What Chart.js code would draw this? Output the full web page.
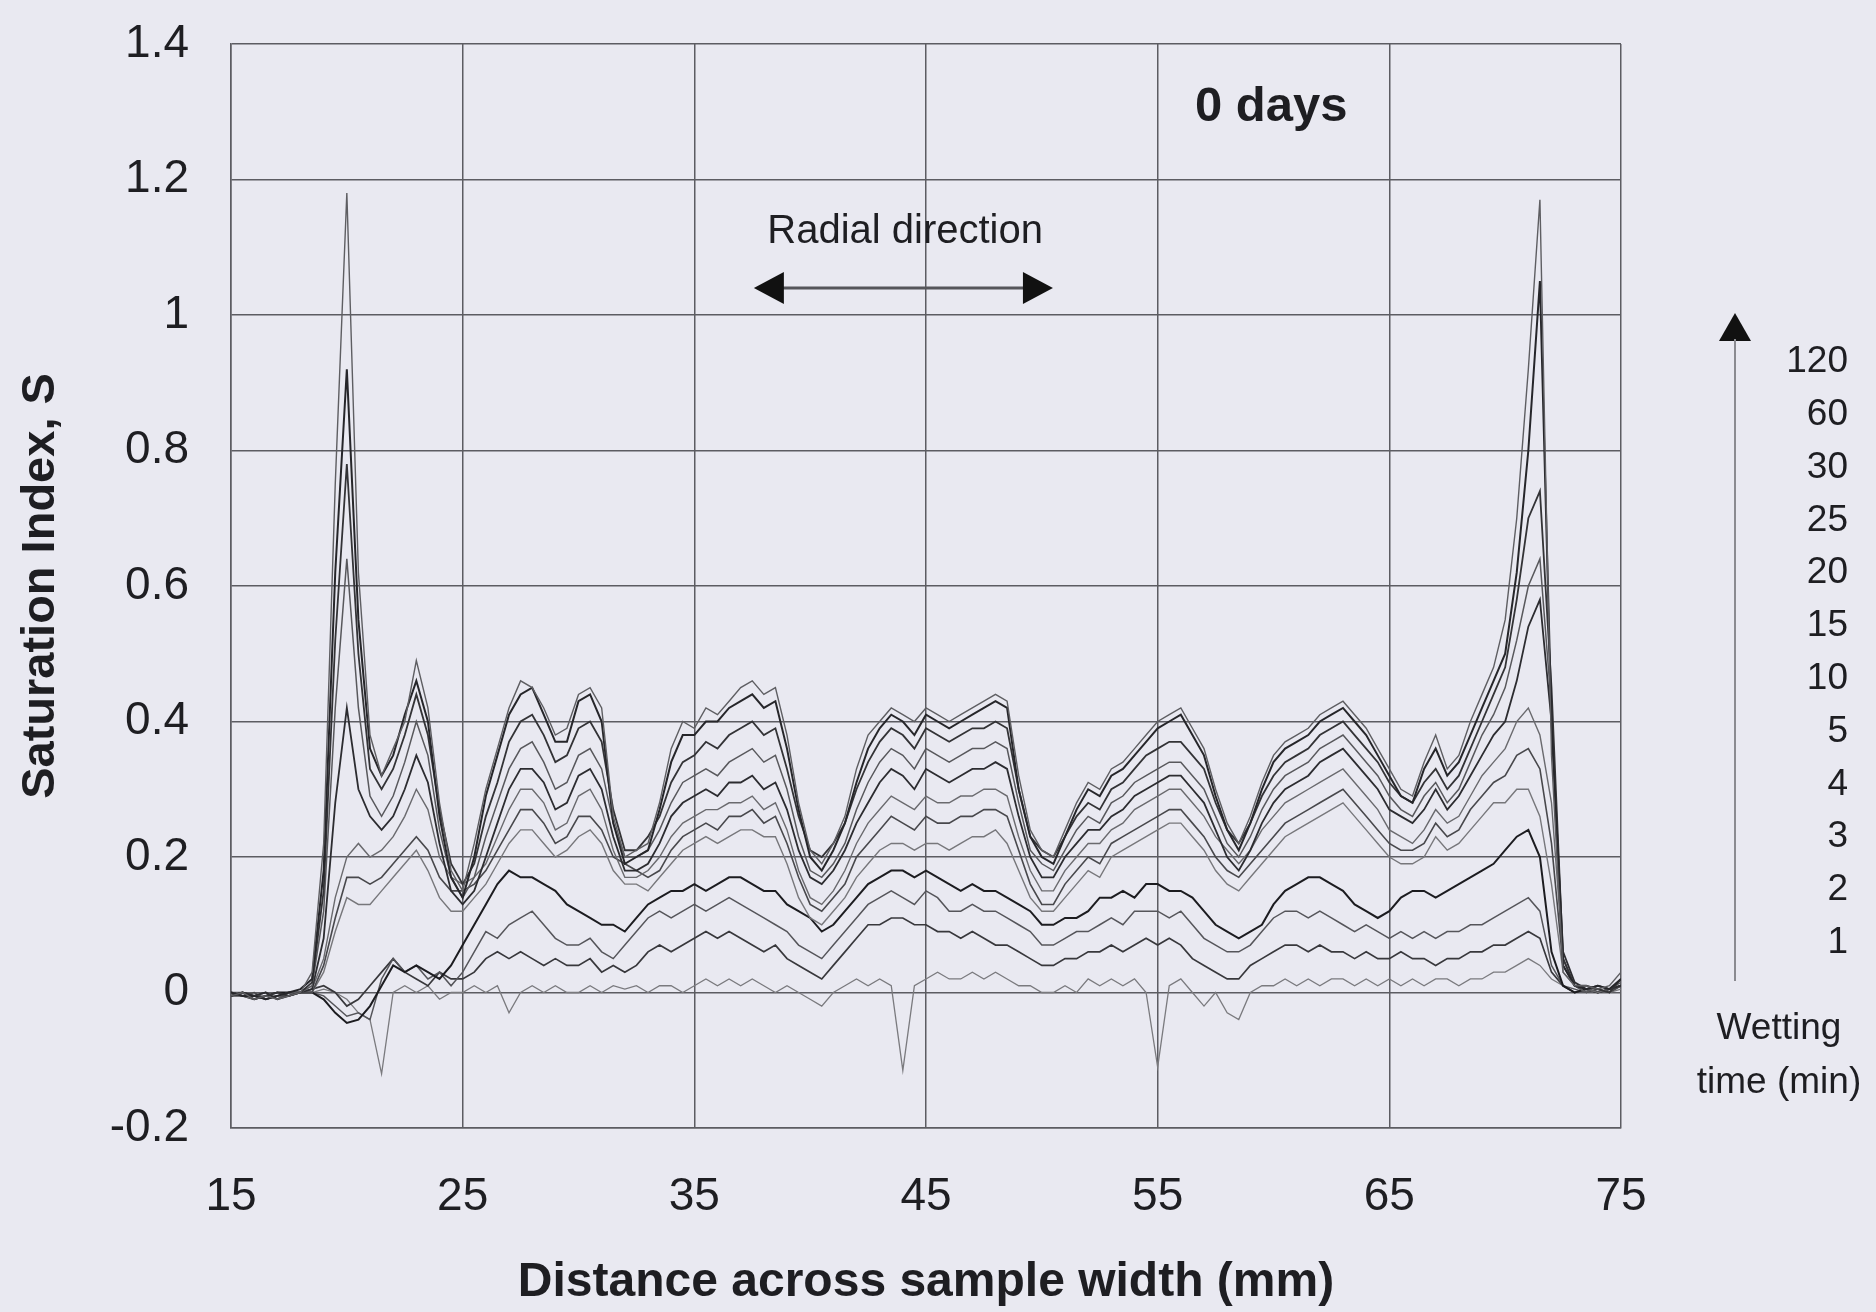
<!DOCTYPE html>
<html>
<head>
<meta charset="utf-8">
<script src="https://cdn.jsdelivr.net/npm/chart.js@4.4.1/dist/chart.umd.min.js"></script>
<style>
  html, body { margin: 0; padding: 0; background: #e9e9f1; }
  #wrap { width: 1876px; height: 1312px; }
</style>
</head>
<body>
<div id="wrap"><canvas id="chartSaturation"></canvas></div>
<script>
// ================================
//   DATI
// ================================
const distances = [
  15, 15.5, 16, 16.5, 17, 17.5, 18, 18.5, 19, 19.5,
  20, 20.5, 21, 21.5, 22, 22.5, 23, 23.5, 24, 24.5,
  25, 25.5, 26, 26.5, 27, 27.5, 28, 28.5, 29, 29.5,
  30, 30.5, 31, 31.5, 32, 32.5, 33, 33.5, 34, 34.5,
  35, 35.5, 36, 36.5, 37, 37.5, 38, 38.5, 39, 39.5,
  40, 40.5, 41, 41.5, 42, 42.5, 43, 43.5, 44, 44.5,
  45, 45.5, 46, 46.5, 47, 47.5, 48, 48.5, 49, 49.5,
  50, 50.5, 51, 51.5, 52, 52.5, 53, 53.5, 54, 54.5,
  55, 55.5, 56, 56.5, 57, 57.5, 58, 58.5, 59, 59.5,
  60, 60.5, 61, 61.5, 62, 62.5, 63, 63.5, 64, 64.5,
  65, 65.5, 66, 66.5, 67, 67.5, 68, 68.5, 69, 69.5,
  70, 70.5, 71, 71.5, 72, 72.5, 73, 73.5, 74, 74.5,
  75
];

const min120 = [
  -0.005, 0.0, -0.01, -0.005, -0.01, -0.005, 0.0, 0.03, 0.22, 0.75,
  1.18, 0.62, 0.38, 0.32, 0.36, 0.40, 0.49, 0.42, 0.28, 0.18,
  0.15, 0.22, 0.30, 0.36, 0.42, 0.46, 0.45, 0.42, 0.38, 0.39,
  0.44, 0.45, 0.42, 0.26, 0.20, 0.21, 0.22, 0.28, 0.36, 0.40,
  0.39, 0.42, 0.41, 0.43, 0.45, 0.46, 0.44, 0.45, 0.38, 0.28,
  0.21, 0.19, 0.22, 0.26, 0.33, 0.38, 0.40, 0.42, 0.41, 0.40,
  0.42, 0.41, 0.40, 0.41, 0.42, 0.43, 0.44, 0.43, 0.32, 0.24,
  0.21, 0.20, 0.24, 0.28, 0.31, 0.30, 0.33, 0.34, 0.36, 0.38,
  0.40, 0.41, 0.42, 0.39, 0.36, 0.30, 0.25, 0.22, 0.26, 0.31,
  0.35, 0.37, 0.38, 0.39, 0.41, 0.42, 0.43, 0.41, 0.39, 0.36,
  0.33, 0.30, 0.29, 0.34, 0.38, 0.33, 0.35, 0.40, 0.44, 0.48,
  0.55, 0.70, 0.92, 1.17, 0.35, 0.03, 0.01, 0.01, 0.005, 0.01,
  0.03
];
const min60 = [
  0.0, -0.005, -0.005, -0.01, -0.005, 0.0, 0.005, 0.02, 0.18, 0.62,
  0.92, 0.55, 0.36, 0.32, 0.35, 0.41, 0.46, 0.40, 0.26, 0.17,
  0.14, 0.20, 0.29, 0.35, 0.41, 0.44, 0.45, 0.41, 0.37, 0.37,
  0.43, 0.44, 0.40, 0.25, 0.19, 0.20, 0.21, 0.27, 0.34, 0.38,
  0.38, 0.40, 0.40, 0.42, 0.43, 0.44, 0.42, 0.43, 0.36, 0.27,
  0.20, 0.18, 0.21, 0.25, 0.31, 0.36, 0.39, 0.41, 0.40, 0.38,
  0.41, 0.40, 0.39, 0.40, 0.41, 0.42, 0.43, 0.42, 0.30, 0.23,
  0.20, 0.19, 0.23, 0.27, 0.30, 0.29, 0.32, 0.33, 0.35, 0.37,
  0.39, 0.40, 0.41, 0.38, 0.35, 0.29, 0.24, 0.21, 0.25, 0.30,
  0.34, 0.36, 0.37, 0.38, 0.40, 0.41, 0.42, 0.40, 0.38, 0.35,
  0.32, 0.29, 0.28, 0.33, 0.36, 0.32, 0.34, 0.38, 0.42, 0.46,
  0.50, 0.62, 0.80, 1.05, 0.40, 0.04, 0.01, 0.005, 0.01, 0.005,
  0.02
];
const min30 = [
  -0.005, 0.0, -0.01, -0.005, 0.0, -0.005, 0.0, 0.015, 0.15, 0.52,
  0.78, 0.50, 0.33, 0.30, 0.33, 0.38, 0.44, 0.38, 0.27, 0.19,
  0.16, 0.19, 0.26, 0.31, 0.37, 0.40, 0.41, 0.38, 0.34, 0.35,
  0.39, 0.40, 0.37, 0.27, 0.21, 0.21, 0.23, 0.26, 0.31, 0.34,
  0.35, 0.37, 0.36, 0.38, 0.39, 0.40, 0.38, 0.39, 0.33, 0.26,
  0.21, 0.20, 0.22, 0.25, 0.30, 0.34, 0.37, 0.39, 0.38, 0.36,
  0.39, 0.38, 0.37, 0.38, 0.39, 0.39, 0.40, 0.39, 0.30, 0.23,
  0.21, 0.20, 0.23, 0.26, 0.28, 0.27, 0.30, 0.31, 0.33, 0.35,
  0.36, 0.37, 0.37, 0.35, 0.33, 0.28, 0.24, 0.22, 0.25, 0.29,
  0.32, 0.34, 0.35, 0.36, 0.38, 0.39, 0.40, 0.38, 0.36, 0.34,
  0.31, 0.29, 0.28, 0.31, 0.33, 0.30, 0.32, 0.36, 0.40, 0.44,
  0.48, 0.58, 0.70, 0.74, 0.45, 0.05, 0.01, 0.01, 0.005, 0.0,
  0.02
];
const min25 = [
  0.0, -0.005, -0.005, -0.01, -0.005, 0.0, 0.0, 0.01, 0.12, 0.42,
  0.64, 0.42, 0.29, 0.26, 0.29, 0.34, 0.40, 0.35, 0.24, 0.17,
  0.14, 0.17, 0.23, 0.28, 0.33, 0.36, 0.37, 0.34, 0.30, 0.31,
  0.35, 0.36, 0.33, 0.25, 0.20, 0.20, 0.21, 0.24, 0.28, 0.31,
  0.32, 0.33, 0.32, 0.34, 0.35, 0.36, 0.34, 0.35, 0.30, 0.23,
  0.18, 0.17, 0.19, 0.22, 0.27, 0.31, 0.34, 0.36, 0.35, 0.33,
  0.36, 0.35, 0.34, 0.35, 0.36, 0.36, 0.37, 0.36, 0.28, 0.21,
  0.19, 0.18, 0.21, 0.24, 0.26, 0.25, 0.28, 0.29, 0.31, 0.32,
  0.33, 0.34, 0.34, 0.32, 0.30, 0.26, 0.22, 0.20, 0.23, 0.27,
  0.30, 0.32, 0.33, 0.34, 0.36, 0.37, 0.38, 0.36, 0.34, 0.32,
  0.29, 0.27, 0.26, 0.29, 0.31, 0.28, 0.30, 0.34, 0.38, 0.41,
  0.45, 0.52, 0.60, 0.64, 0.42, 0.05, 0.01, 0.0, 0.01, 0.005,
  0.015
];
const min20 = [
  -0.005, 0.0, -0.005, 0.0, -0.01, -0.005, 0.0, 0.005, 0.08, 0.28,
  0.42, 0.30, 0.26, 0.24, 0.26, 0.30, 0.35, 0.31, 0.22, 0.15,
  0.13, 0.15, 0.20, 0.25, 0.30, 0.33, 0.33, 0.31, 0.27, 0.28,
  0.32, 0.33, 0.30, 0.23, 0.18, 0.18, 0.19, 0.22, 0.26, 0.28,
  0.29, 0.30, 0.29, 0.31, 0.31, 0.32, 0.30, 0.31, 0.27, 0.21,
  0.17, 0.16, 0.18, 0.21, 0.25, 0.28, 0.31, 0.33, 0.32, 0.30,
  0.33, 0.32, 0.31, 0.32, 0.33, 0.33, 0.34, 0.33, 0.26, 0.20,
  0.17, 0.17, 0.20, 0.22, 0.24, 0.24, 0.26, 0.27, 0.29, 0.30,
  0.31, 0.32, 0.32, 0.30, 0.28, 0.24, 0.20, 0.18, 0.21, 0.25,
  0.28, 0.30, 0.31, 0.32, 0.34, 0.35, 0.36, 0.34, 0.32, 0.30,
  0.27, 0.26, 0.25, 0.27, 0.30, 0.27, 0.29, 0.32, 0.35, 0.38,
  0.40, 0.46, 0.54, 0.58, 0.40, 0.06, 0.015, 0.005, 0.01, 0.005,
  0.01
];
const min15 = [
  0.0, -0.005, -0.01, -0.005, -0.005, 0.0, 0.0, 0.005, 0.05, 0.14,
  0.20, 0.22, 0.20, 0.21, 0.23, 0.26, 0.30, 0.27, 0.20, 0.17,
  0.16, 0.17, 0.19, 0.23, 0.27, 0.30, 0.30, 0.28, 0.24, 0.25,
  0.29, 0.30, 0.27, 0.21, 0.17, 0.17, 0.18, 0.20, 0.23, 0.25,
  0.26, 0.27, 0.27, 0.28, 0.28, 0.29, 0.27, 0.28, 0.24, 0.18,
  0.14, 0.13, 0.15, 0.18, 0.22, 0.25, 0.27, 0.29, 0.28, 0.27,
  0.29, 0.28, 0.28, 0.29, 0.29, 0.30, 0.30, 0.29, 0.23, 0.18,
  0.15, 0.15, 0.18, 0.20, 0.22, 0.22, 0.24, 0.25, 0.27, 0.28,
  0.29, 0.30, 0.30, 0.28, 0.26, 0.23, 0.21, 0.19, 0.21, 0.24,
  0.26, 0.28, 0.29, 0.30, 0.31, 0.32, 0.33, 0.31, 0.29, 0.27,
  0.24, 0.23, 0.22, 0.24, 0.27, 0.25, 0.26, 0.29, 0.32, 0.34,
  0.36, 0.40, 0.42, 0.38, 0.28, 0.05, 0.01, 0.005, 0.0, 0.005,
  0.01
];
const min10 = [
  -0.005, -0.005, 0.0, -0.01, -0.005, -0.005, 0.0, 0.0, 0.04, 0.11,
  0.17, 0.17, 0.16, 0.17, 0.19, 0.21, 0.23, 0.21, 0.17, 0.15,
  0.15, 0.16, 0.18, 0.21, 0.24, 0.27, 0.27, 0.25, 0.22, 0.23,
  0.26, 0.26, 0.24, 0.20, 0.19, 0.18, 0.17, 0.18, 0.21, 0.23,
  0.24, 0.25, 0.24, 0.26, 0.26, 0.27, 0.25, 0.26, 0.22, 0.17,
  0.13, 0.12, 0.14, 0.16, 0.20, 0.22, 0.24, 0.26, 0.25, 0.24,
  0.26, 0.25, 0.25, 0.26, 0.26, 0.27, 0.27, 0.26, 0.21, 0.16,
  0.13, 0.13, 0.16, 0.18, 0.20, 0.19, 0.22, 0.23, 0.24, 0.25,
  0.26, 0.27, 0.27, 0.25, 0.23, 0.20, 0.18, 0.17, 0.19, 0.21,
  0.23, 0.25, 0.26, 0.27, 0.28, 0.29, 0.30, 0.28, 0.26, 0.24,
  0.22, 0.21, 0.21, 0.22, 0.25, 0.23, 0.24, 0.27, 0.29, 0.31,
  0.32, 0.35, 0.36, 0.33, 0.22, 0.04, 0.01, 0.0, 0.005, 0.0,
  0.01
];
const min5 = [
  0.0, -0.005, -0.005, -0.005, -0.01, 0.0, 0.0, 0.0, 0.03, 0.09,
  0.14, 0.13, 0.13, 0.15, 0.17, 0.19, 0.21, 0.18, 0.14, 0.12,
  0.12, 0.14, 0.16, 0.19, 0.22, 0.24, 0.24, 0.22, 0.20, 0.21,
  0.23, 0.24, 0.22, 0.18, 0.16, 0.16, 0.15, 0.17, 0.19, 0.21,
  0.22, 0.23, 0.22, 0.23, 0.24, 0.24, 0.23, 0.23, 0.19, 0.14,
  0.11, 0.10, 0.12, 0.14, 0.17, 0.19, 0.21, 0.22, 0.22, 0.21,
  0.22, 0.22, 0.21, 0.22, 0.23, 0.23, 0.24, 0.22, 0.18, 0.14,
  0.12, 0.12, 0.14, 0.16, 0.18, 0.17, 0.20, 0.21, 0.22, 0.23,
  0.24, 0.25, 0.25, 0.23, 0.21, 0.18, 0.16, 0.15, 0.17, 0.19,
  0.21, 0.23, 0.24, 0.25, 0.26, 0.27, 0.28, 0.26, 0.24, 0.22,
  0.20, 0.19, 0.19, 0.20, 0.23, 0.21, 0.22, 0.24, 0.26, 0.28,
  0.28, 0.30, 0.30, 0.26, 0.16, 0.03, 0.01, 0.0, 0.005, 0.0,
  0.005
];
const min4 = [
  0.0, -0.005, -0.01, -0.005, 0.0, 0.0, 0.0, 0.0, -0.01, -0.03,
  -0.045, -0.04, -0.02, 0.01, 0.04, 0.03, 0.04, 0.03, 0.02, 0.04,
  0.07, 0.10, 0.13, 0.16, 0.18, 0.17, 0.17, 0.16, 0.15, 0.13,
  0.12, 0.11, 0.10, 0.10, 0.09, 0.11, 0.13, 0.14, 0.15, 0.15,
  0.16, 0.15, 0.16, 0.17, 0.17, 0.16, 0.15, 0.15, 0.13, 0.12,
  0.11, 0.09, 0.10, 0.12, 0.14, 0.16, 0.17, 0.18, 0.18, 0.17,
  0.18, 0.17, 0.16, 0.15, 0.16, 0.15, 0.15, 0.14, 0.13, 0.12,
  0.10, 0.10, 0.11, 0.11, 0.12, 0.14, 0.14, 0.15, 0.14, 0.16,
  0.16, 0.15, 0.15, 0.14, 0.12, 0.10, 0.09, 0.08, 0.09, 0.10,
  0.13, 0.15, 0.16, 0.17, 0.17, 0.16, 0.15, 0.13, 0.12, 0.11,
  0.12, 0.14, 0.15, 0.15, 0.14, 0.15, 0.16, 0.17, 0.18, 0.19,
  0.21, 0.23, 0.24, 0.20, 0.06, 0.01, 0.0, 0.005, 0.0, 0.005,
  0.01
];
const min3 = [
  0.0, 0.0, -0.005, -0.01, -0.005, 0.0, 0.0, 0.0, -0.005, -0.02,
  -0.035, -0.03, -0.04, 0.02, 0.05, 0.03, 0.04, 0.02, 0.03, 0.01,
  0.03, 0.06, 0.09, 0.08, 0.10, 0.11, 0.12, 0.10, 0.08, 0.07,
  0.07, 0.08, 0.06, 0.05, 0.07, 0.09, 0.11, 0.12, 0.11, 0.12,
  0.13, 0.12, 0.13, 0.14, 0.13, 0.12, 0.11, 0.10, 0.09, 0.07,
  0.06, 0.05, 0.07, 0.09, 0.11, 0.13, 0.14, 0.15, 0.14, 0.13,
  0.15, 0.14, 0.12, 0.12, 0.13, 0.12, 0.12, 0.11, 0.10, 0.09,
  0.07, 0.07, 0.08, 0.09, 0.09, 0.10, 0.11, 0.10, 0.12, 0.12,
  0.12, 0.11, 0.12, 0.10, 0.08, 0.07, 0.06, 0.06, 0.07, 0.09,
  0.11, 0.12, 0.12, 0.11, 0.12, 0.11, 0.10, 0.09, 0.10, 0.09,
  0.08, 0.09, 0.08, 0.09, 0.08, 0.09, 0.09, 0.10, 0.10, 0.11,
  0.12, 0.13, 0.14, 0.12, 0.04, 0.01, 0.005, 0.0, 0.005, 0.0,
  0.01
];
const min2 = [
  -0.005, 0.0, -0.005, 0.0, -0.01, 0.0, 0.0, 0.005, 0.01, 0.0,
  -0.02, -0.01, 0.01, 0.03, 0.05, 0.03, 0.02, 0.01, 0.03, 0.02,
  0.02, 0.03, 0.05, 0.06, 0.05, 0.06, 0.05, 0.04, 0.05, 0.04,
  0.04, 0.05, 0.03, 0.04, 0.03, 0.04, 0.06, 0.07, 0.06, 0.07,
  0.08, 0.09, 0.08, 0.09, 0.08, 0.07, 0.06, 0.07, 0.05, 0.04,
  0.03, 0.02, 0.04, 0.06, 0.08, 0.10, 0.10, 0.11, 0.11, 0.10,
  0.10, 0.09, 0.09, 0.08, 0.09, 0.08, 0.07, 0.07, 0.06, 0.05,
  0.04, 0.04, 0.05, 0.05, 0.06, 0.06, 0.07, 0.06, 0.07, 0.08,
  0.07, 0.08, 0.07, 0.05, 0.04, 0.03, 0.02, 0.02, 0.04, 0.05,
  0.06, 0.07, 0.07, 0.06, 0.07, 0.06, 0.06, 0.05, 0.06, 0.05,
  0.05, 0.06, 0.05, 0.05, 0.04, 0.05, 0.05, 0.06, 0.06, 0.07,
  0.07, 0.08, 0.09, 0.08, 0.03, 0.01, 0.0, 0.005, 0.0, 0.005,
  0.01
];
const min1 = [
  0.0, -0.005, 0.0, -0.01, -0.005, 0.0, 0.0, 0.0, 0.005, 0.0,
  -0.01, -0.03, -0.04, -0.12, 0.0, 0.01, 0.0, 0.01, -0.01, 0.0,
  0.0, 0.01, 0.0, 0.01, -0.03, 0.0, 0.01, 0.0, 0.01, 0.0,
  0.0, 0.01, 0.0, 0.01, 0.005, 0.01, 0.0, 0.01, 0.01, 0.0,
  0.01, 0.02, 0.01, 0.02, 0.01, 0.02, 0.01, 0.0, 0.01, 0.0,
  -0.01, -0.02, 0.0, 0.01, 0.02, 0.01, 0.02, 0.01, -0.115, 0.01,
  0.02, 0.03, 0.02, 0.02, 0.03, 0.02, 0.03, 0.02, 0.01, 0.01,
  0.0, 0.0, 0.01, 0.0, 0.02, 0.01, 0.02, 0.01, 0.02, 0.0,
  -0.11, 0.01, 0.02, 0.0, -0.02, 0.0, -0.03, -0.04, 0.0, 0.01,
  0.01, 0.02, 0.01, 0.02, 0.01, 0.02, 0.02, 0.01, 0.02, 0.01,
  0.02, 0.01, 0.02, 0.01, 0.02, 0.02, 0.01, 0.02, 0.02, 0.03,
  0.03, 0.04, 0.05, 0.04, 0.02, 0.01, 0.0, 0.005, 0.0, 0.005,
  0.01
];

const wettingTimes = ["120", "60", "30", "25", "20", "15", "10", "5", "4", "3", "2", "1"];
const xTicks = [15, 25, 35, 45, 55, 65, 75];
const yTicks = [-0.2, 0, 0.2, 0.4, 0.6, 0.8, 1, 1.2, 1.4];
const yTickLabels = ["-0.2", "0", "0.2", "0.4", "0.6", "0.8", "1", "1.2", "1.4"];

// ================================
//   STILI DELLE LINEE
// ================================
const serie = [
  { values: min120, color: "#5e5e62", width: 1.4 },
  { values: min60,  color: "#26262a", width: 2.0 },
  { values: min30,  color: "#333336", width: 1.8 },
  { values: min25,  color: "#58585c", width: 1.5 },
  { values: min20,  color: "#2c2c30", width: 1.8 },
  { values: min15,  color: "#6a6a6e", width: 1.4 },
  { values: min10,  color: "#48484c", width: 1.6 },
  { values: min5,   color: "#77777b", width: 1.4 },
  { values: min4,   color: "#1c1c20", width: 2.0 },
  { values: min3,   color: "#55555a", width: 1.5 },
  { values: min2,   color: "#38383c", width: 1.7 },
  { values: min1,   color: "#7a7a7e", width: 1.3 }
];

const BG = "#e9e9f1";
const GRID = "#5c5c62";
const TEXT = "#1e1e22";

// ================================
//   PLUGIN: sfondo + annotazioni
// ================================
const decorPlugin = {
  id: "decor",
  beforeDraw(chart) {
    const c = chart.ctx;
    c.save();
    c.fillStyle = BG;
    c.fillRect(0, 0, chart.width, chart.height);
    c.restore();
  },
  afterDraw(chart) {
    const c = chart.ctx;
    const xs = chart.scales.x;
    const ys = chart.scales.y;
    const area = chart.chartArea;
    c.save();
    c.fillStyle = TEXT;
    c.textAlign = "center";
    c.textBaseline = "middle";

    // "0 days"
    c.font = "bold 49px 'Liberation Sans', Arial, sans-serif";
    c.fillText("0 days", xs.getPixelForValue(59.9), ys.getPixelForValue(1.307));

    // Radial direction + freccia doppia
    c.font = "40px 'Liberation Sans', Arial, sans-serif";
    c.fillText("Radial direction", xs.getPixelForValue(44.1), ys.getPixelForValue(1.122));
    const ax1 = xs.getPixelForValue(37.57);
    const ax2 = xs.getPixelForValue(50.48);
    const ay = ys.getPixelForValue(1.04);
    const head = 30, half = 16;
    c.strokeStyle = "#55555a";
    c.lineWidth = 3;
    c.beginPath();
    c.moveTo(ax1 + head - 4, ay);
    c.lineTo(ax2 - head + 4, ay);
    c.stroke();
    c.fillStyle = "#111";
    c.beginPath();
    c.moveTo(ax1, ay); c.lineTo(ax1 + head, ay - half); c.lineTo(ax1 + head, ay + half); c.closePath();
    c.fill();
    c.beginPath();
    c.moveTo(ax2, ay); c.lineTo(ax2 - head, ay - half); c.lineTo(ax2 - head, ay + half); c.closePath();
    c.fill();

    // Legenda laterale (tempo di bagnatura)
    const lx = area.right + 114;
    const tipY = area.top + 269;
    c.beginPath();
    c.moveTo(lx, tipY); c.lineTo(lx - 16, tipY + 28); c.lineTo(lx + 16, tipY + 28); c.closePath();
    c.fill();
    c.strokeStyle = "#8a8a90";
    c.lineWidth = 2;
    c.beginPath();
    c.moveTo(lx, tipY + 26);
    c.lineTo(lx, area.top + 937);
    c.stroke();

    c.fillStyle = TEXT;
    c.font = "37px 'Liberation Sans', Arial, sans-serif";
    c.textAlign = "right";
    wettingTimes.forEach((t, i) => {
      c.fillText(t, area.right + 227, area.top + 318 + i * 52.8);
    });
    c.textAlign = "center";
    c.fillText("Wetting", area.right + 158, area.top + 985);
    c.fillText("time (min)", area.right + 158, area.top + 1039);
    c.restore();
  }
};

// ================================
//   CREA IL GRAFICO
// ================================
function createChart() {
  const ctx = document.getElementById("chartSaturation");

  const datasets = serie.map((s, i) => ({
    label: wettingTimes[i] + " min",
    data: distances.map((d, k) => ({ x: d, y: s.values[k] })),
    borderColor: s.color,
    borderWidth: s.width,
    pointRadius: 0,
    tension: 0,
    fill: false
  }));

  // niente padding extra per le etichette ai bordi
  const noEdgePadding = (scale) => {
    scale.paddingTop = 0;
    scale.paddingBottom = 0;
    scale.paddingLeft = 0;
    scale.paddingRight = 0;
  };

  new Chart(ctx, {
    type: "line",
    data: { datasets },
    options: {
      responsive: true,
      maintainAspectRatio: false,
      animation: false,
      layout: { padding: { top: 44, right: 255, bottom: 0, left: 0 } },
      plugins: { legend: { display: false }, tooltip: { enabled: false } },
      scales: {
        x: {
          type: "linear",
          min: 15,
          max: 75,
          afterBuildTicks: (scale) => { scale.ticks = xTicks.map(v => ({ value: v })); },
          afterFit: (scale) => { scale.height = 184; noEdgePadding(scale); },
          ticks: {
            color: TEXT,
            padding: 42,
            maxRotation: 0,
            font: { family: "'Liberation Sans', Arial, sans-serif", size: 46 }
          },
          grid: { color: GRID, lineWidth: 1.5, drawTicks: false },
          border: { color: GRID, width: 1.5 },
          title: {
            display: true,
            text: "Distance across sample width (mm)",
            color: TEXT,
            padding: { top: 0, bottom: 0 },
            font: { family: "'Liberation Sans', Arial, sans-serif", size: 48, weight: "bold" }
          }
        },
        y: {
          min: -0.2,
          max: 1.4,
          afterBuildTicks: (scale) => { scale.ticks = yTicks.map(v => ({ value: v })); },
          afterFit: (scale) => { scale.width = 231; noEdgePadding(scale); },
          ticks: {
            color: TEXT,
            padding: 42,
            callback: (value, index) => yTickLabels[index],
            font: { family: "'Liberation Sans', Arial, sans-serif", size: 46 }
          },
          grid: { color: GRID, lineWidth: 1.5, drawTicks: false },
          border: { color: GRID, width: 1.5 },
          title: {
            display: true,
            text: "Saturation Index, S",
            color: TEXT,
            padding: { top: 13, bottom: 0 },
            font: { family: "'Liberation Sans', Arial, sans-serif", size: 47, weight: "bold" }
          }
        }
      }
    },
    plugins: [decorPlugin]
  });
}

createChart();
</script>
</body>
</html>
